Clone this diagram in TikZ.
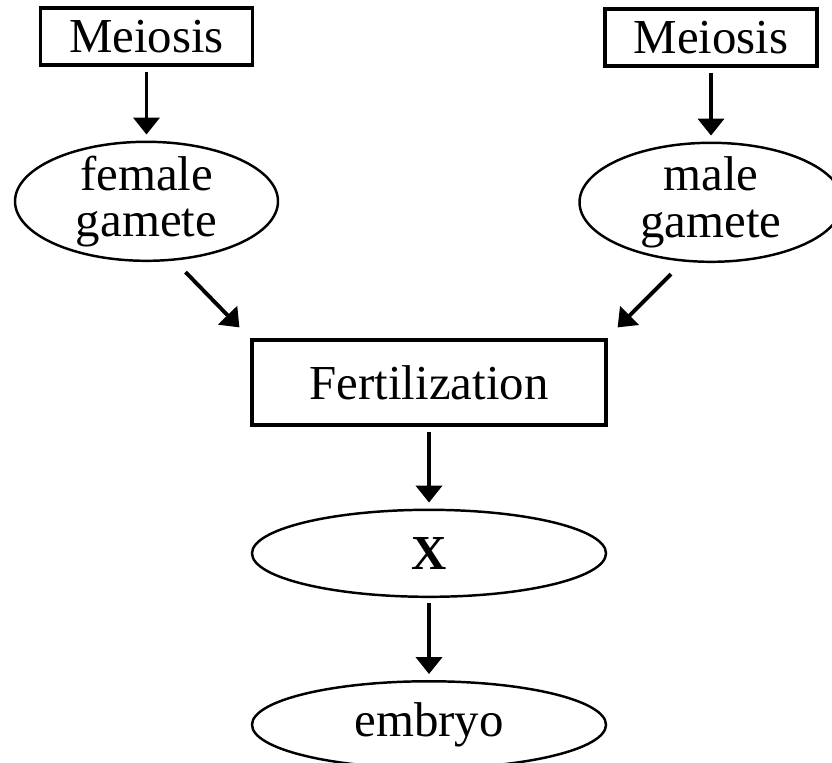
\documentclass[tikz,border=0pt]{standalone}
\usepackage{fontspec}
\setmainfont{Liberation Serif}
\usepackage{tikz}
\usetikzlibrary{arrows.meta, positioning, shapes}

\begin{document}
\begin{tikzpicture}[node distance=0.74cm,
    font=\fontsize{13.9}{13.2}\selectfont,
    box/.style={draw, line width=0.9pt, rectangle, inner sep=0pt, minimum width=2.12cm, minimum height=0.57cm},
    oval/.style={draw, line width=0.7pt, ellipse, inner sep=0pt, align=center, minimum width=2.63cm, minimum height=1.19cm},
    wide/.style={minimum width=3.54cm, minimum height=0.87cm},
    arr/.style={-{Triangle[length=0.17cm, width=0.26cm]}, line width=1.1pt, shorten <=0.05cm, shorten >=0.06cm}]
    \useasboundingbox (0,0) rectangle (8.32,-7.63);

    \node[box] (meioF) at (1.465,-0.365) {Meiosis};
    \node[oval, inner ysep=-0.04cm, below=of meioF] (femG) {female\\gamete};

    \node[box] (meioM) at (7.11,-0.375) {Meiosis};
    \node[oval, inner ysep=-0.04cm, below=of meioM] (maleG) {male\\gamete};

    \node[box, wide, minimum height=0.85cm] (fert) at (4.29,-3.825) {Fertilization};
    \node[oval, wide, below=0.82cm of fert] (zyg) {\textbf{X}};
    \node[oval, wide, below=0.82cm of zyg] (emb) {embryo};

    \draw[arr] (meioF) -- (femG);
    \draw[arr] (meioM) -- (maleG);
    \draw[arr, shorten <=0pt, shorten >=0pt] ([shift={(0.39,-0.10)}]femG.south) -- ([shift={(-0.11,0.11)}]fert.north west);
    \draw[arr, shorten <=0pt, shorten >=0pt] ([shift={(-0.40,-0.11)}]maleG.south) -- ([shift={(0.10,0.11)}]fert.north east);
    \draw[arr] (fert) -- (zyg);
    \draw[arr] (zyg) -- (emb);
\end{tikzpicture}
\end{document}
